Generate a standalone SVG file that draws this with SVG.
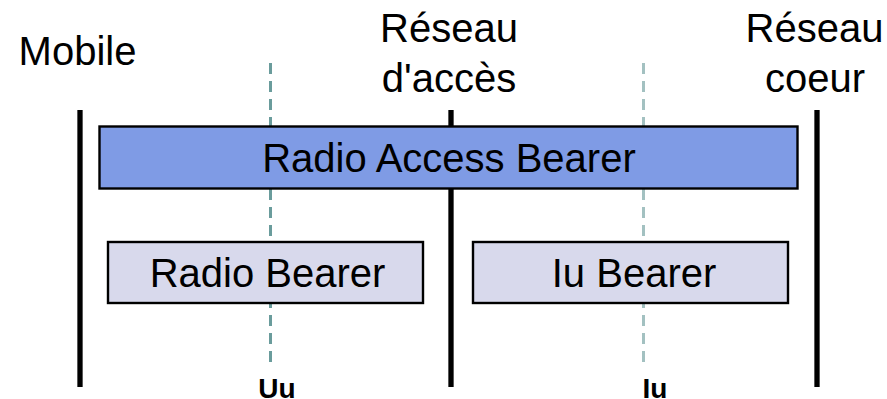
<svg xmlns="http://www.w3.org/2000/svg" width="887" height="399" viewBox="0 0 887 399">
  <style>
    text { font-family: "Liberation Sans", Arial, sans-serif; fill: #000; }
    .lbl { font-size: 40px; text-anchor: middle; }
    .itf { font-size: 28px; font-weight: bold; text-anchor: middle; }
    .domain { stroke: #000; stroke-width: 5.3; fill: none; }
    .iface { stroke: #6A9C9C; stroke-width: 3; stroke-dasharray: 11 7; fill: none; }
    .iface.faint { stroke: #A3C1C1; }
    .bearer { stroke: #000; stroke-width: 2.4; }
    .rab { fill: #7F9BE5; }
    .sub { fill: #D8D9EC; }
  </style>

  <!-- domain labels -->
  <g id="labels">
    <text class="lbl" x="77.5" y="65">Mobile</text>
    <text class="lbl" x="449" y="42">Réseau</text>
    <text class="lbl" x="449" y="92">d'accès</text>
    <text class="lbl" x="814.5" y="42">Réseau</text>
    <text class="lbl" x="815" y="92">coeur</text>
  </g>

  <!-- domain boundaries and interface lines -->
  <g id="connectors">
    <line class="domain" x1="80" y1="110" x2="80" y2="387"/>
    <line class="domain" x1="451" y1="110" x2="451" y2="387"/>
    <line class="domain" x1="817" y1="110" x2="817" y2="387"/>
    <line class="iface" x1="270.5" y1="63" x2="270.5" y2="367"/>
    <line class="iface faint" x1="643.5" y1="63" x2="643.5" y2="366"/>
  </g>

  <g id="radio-access-bearer">
    <rect class="bearer rab" x="99.5" y="126.5" width="698" height="62"/>
    <text class="lbl" x="449" y="172">Radio Access Bearer</text>
  </g>

  <g id="radio-bearer">
    <rect class="bearer sub" x="108" y="242" width="315" height="61"/>
    <text class="lbl" x="267.5" y="287">Radio Bearer</text>
  </g>

  <g id="iu-bearer">
    <rect class="bearer sub" x="473" y="242" width="315" height="61"/>
    <text class="lbl" x="634" y="287">Iu Bearer</text>
  </g>

  <!-- interface names -->
  <g id="interfaces">
    <text class="itf" x="277" y="398">Uu</text>
    <text class="itf" x="655" y="398">Iu</text>
  </g>
</svg>
